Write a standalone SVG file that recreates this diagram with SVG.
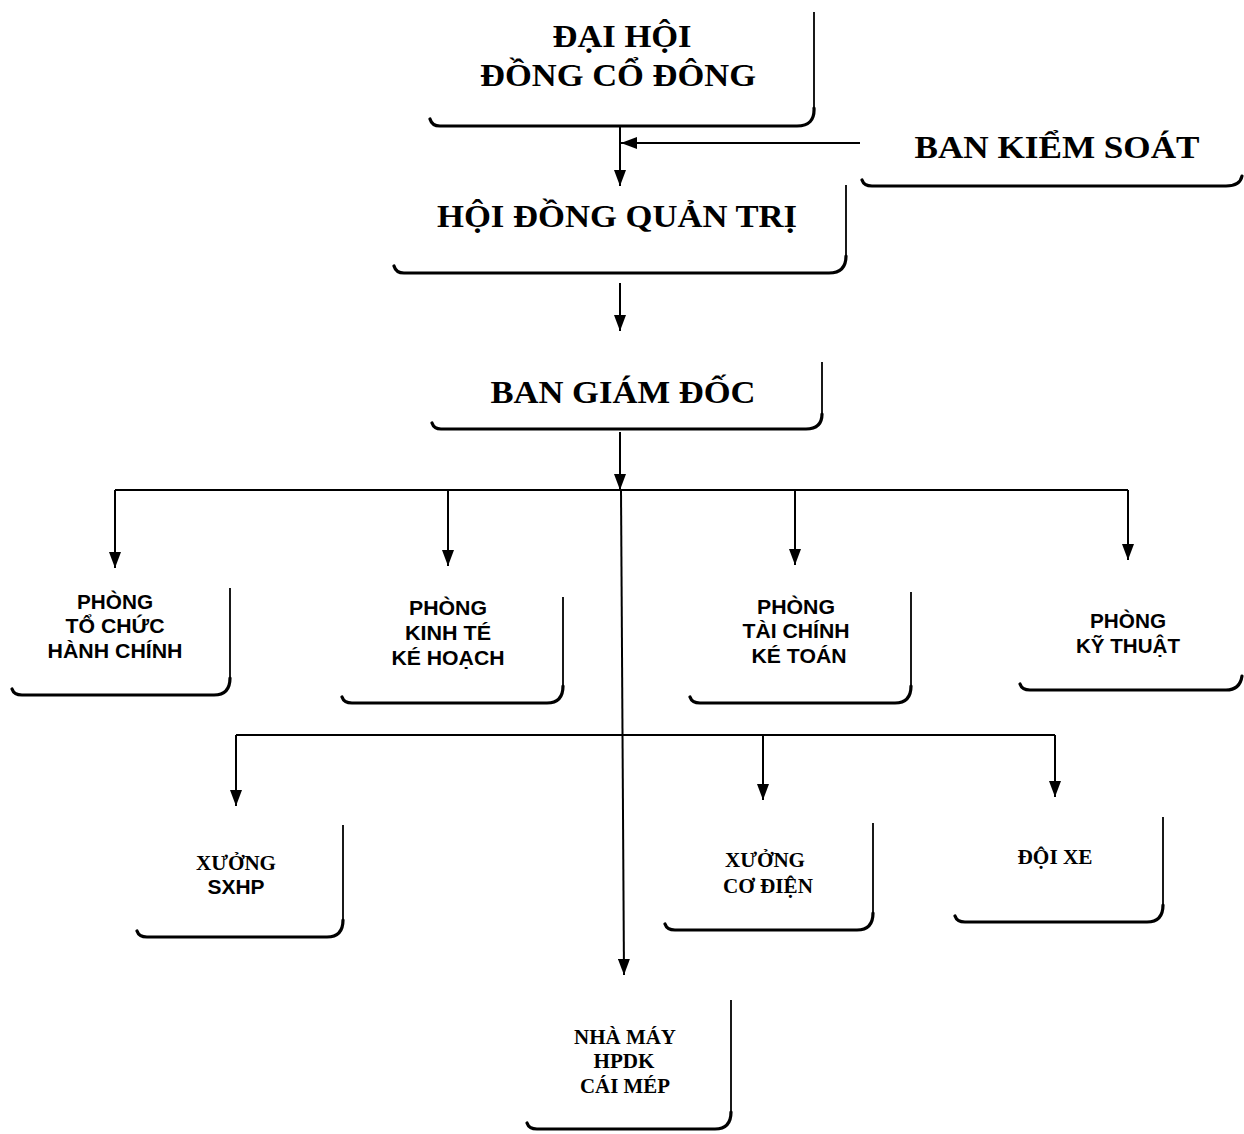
<svg xmlns="http://www.w3.org/2000/svg" width="1244" height="1134" viewBox="0 0 1244 1134">
<defs>
<marker id="ah" viewBox="0 0 16 12" markerWidth="16" markerHeight="12" refX="16" refY="6" orient="auto" markerUnits="userSpaceOnUse">
<path d="M0,0 L16,6 L0,12 z" fill="#000"/>
</marker>
<style>
.edge{fill:none;stroke:#000;stroke-width:1.8}
.base{fill:none;stroke:#000;stroke-width:3.2;stroke-linecap:round}
.ln{fill:none;stroke:#000;stroke-width:2}
.ar{fill:none;stroke:#000;stroke-width:2;marker-end:url(#ah)}
.big{font-family:"Liberation Serif","Times New Roman",serif;font-weight:bold;font-size:32px;text-anchor:middle;fill:#000}
.ts{font-family:"Liberation Serif","Times New Roman",serif;font-weight:bold;font-size:21px;text-anchor:middle;fill:#000}
.as{font-family:"Liberation Sans",Arial,sans-serif;font-weight:bold;font-size:20px;text-anchor:middle;fill:#000}
</style>
</defs>
<rect width="1244" height="1134" fill="#fff"/>

<g id="connectors">
<path class="ar" d="M620,127 V186"/>
<path class="ar" d="M860,143 H621"/>
<path class="ar" d="M620,283 V331"/>
<path class="ar" d="M620,432 V490"/>
<path class="ln" d="M115,490 H1128"/>
<path class="ar" d="M115,490 V568"/>
<path class="ar" d="M448,490 V566"/>
<path class="ar" d="M795,490 V565"/>
<path class="ar" d="M1128,490 V560"/>
<path class="ar" d="M621,490 L624,975"/>
<path class="ln" d="M236,735 H1055"/>
<path class="ar" d="M236,735 V806"/>
<path class="ar" d="M763,735 V800"/>
<path class="ar" d="M1055,735 V797"/>
</g>

<g id="dai-hoi">
<path class="edge" d="M814,12 V110"/>
<path class="base" d="M814,108 Q815,126 797,126 H440 Q432,126 430,119"/>
<text class="big" x="622" y="47" textLength="139" lengthAdjust="spacingAndGlyphs">ĐẠI HỘI</text>
<text class="big" x="618" y="86" textLength="276" lengthAdjust="spacingAndGlyphs">ĐỒNG CỔ ĐÔNG</text>
</g>

<g id="ban-kiem-soat">
<path class="base" d="M1242,176 Q1240,186 1226,186 H872 Q864,186 862,180"/>
<text class="big" x="1057" y="158" textLength="285" lengthAdjust="spacingAndGlyphs">BAN KIỂM  SOÁT</text>
</g>

<g id="hoi-dong-quan-tri">
<path class="edge" d="M846,185 V258"/>
<path class="base" d="M846,256 Q846,273 829,273 H404 Q396,273 394,266"/>
<text class="big" x="617" y="227" textLength="360" lengthAdjust="spacingAndGlyphs">HỘI ĐỒNG QUẢN TRỊ</text>
</g>

<g id="ban-giam-doc">
<path class="edge" d="M822,362 V416"/>
<path class="base" d="M822,414 Q822,429 806,429 H441 Q434,429 432,423"/>
<text class="big" x="623" y="403" textLength="265" lengthAdjust="spacingAndGlyphs">BAN GIÁM ĐỐC</text>
</g>

<g id="phong-to-chuc">
<path class="edge" d="M230,588 V680"/>
<path class="base" d="M230,678 Q230,695 214,695 H22 Q14,695 12,689"/>
<text class="as" x="115" y="609" textLength="76" lengthAdjust="spacingAndGlyphs">PHÒNG</text>
<text class="as" x="115" y="633" textLength="99" lengthAdjust="spacingAndGlyphs">TỔ CHỨC</text>
<text class="as" x="115" y="658" textLength="135" lengthAdjust="spacingAndGlyphs">HÀNH CHÍNH</text>
</g>

<g id="phong-kinh-te">
<path class="edge" d="M563,597 V688"/>
<path class="base" d="M563,686 Q563,703 547,703 H352 Q344,703 342,697"/>
<text class="as" x="448" y="615" textLength="78" lengthAdjust="spacingAndGlyphs">PHÒNG</text>
<text class="as" x="448" y="640" textLength="86" lengthAdjust="spacingAndGlyphs">KINH TÉ</text>
<text class="as" x="448" y="665" textLength="113" lengthAdjust="spacingAndGlyphs">KÉ HOẠCH</text>
</g>

<g id="phong-tai-chinh">
<path class="edge" d="M911,592 V688"/>
<path class="base" d="M911,686 Q911,703 895,703 H700 Q692,703 690,697"/>
<text class="as" x="796" y="614" textLength="78" lengthAdjust="spacingAndGlyphs">PHÒNG</text>
<text class="as" x="796" y="638" textLength="107" lengthAdjust="spacingAndGlyphs">TÀI CHÍNH</text>
<text class="as" x="799" y="663" textLength="95" lengthAdjust="spacingAndGlyphs">KÉ TOÁN</text>
</g>

<g id="phong-ky-thuat">
<path class="base" d="M1242,676 Q1240,690 1226,690 H1030 Q1022,690 1020,684"/>
<text class="as" x="1128" y="628" textLength="76" lengthAdjust="spacingAndGlyphs">PHÒNG</text>
<text class="as" x="1128" y="653" textLength="104" lengthAdjust="spacingAndGlyphs">KỸ THUẬT</text>
</g>

<g id="xuong-sxhp">
<path class="edge" d="M343,825 V922"/>
<path class="base" d="M343,920 Q343,937 327,937 H147 Q139,937 137,931"/>
<text class="ts" x="236" y="870" textLength="80" lengthAdjust="spacingAndGlyphs">XƯỞNG</text>
<text class="as" x="236" y="894" textLength="57" lengthAdjust="spacingAndGlyphs">SXHP</text>
</g>

<g id="xuong-co-dien">
<path class="edge" d="M873,823 V915"/>
<path class="base" d="M873,913 Q873,930 857,930 H675 Q667,930 665,924"/>
<text class="ts" x="765" y="867" textLength="80" lengthAdjust="spacingAndGlyphs">XƯỞNG</text>
<text class="ts" x="768" y="893" textLength="90" lengthAdjust="spacingAndGlyphs">CƠ ĐIỆN</text>
</g>

<g id="doi-xe">
<path class="edge" d="M1163,817 V907"/>
<path class="base" d="M1163,905 Q1163,922 1147,922 H965 Q957,922 955,916"/>
<text class="ts" x="1055" y="864" textLength="75" lengthAdjust="spacingAndGlyphs">ĐỘI XE</text>
</g>

<g id="nha-may">
<path class="edge" d="M731,1000 V1114"/>
<path class="base" d="M731,1112 Q731,1129 715,1129 H537 Q529,1129 527,1123"/>
<text class="ts" x="625" y="1044" textLength="102" lengthAdjust="spacingAndGlyphs">NHÀ MÁY</text>
<text class="ts" x="624" y="1068" textLength="61" lengthAdjust="spacingAndGlyphs">HPDK</text>
<text class="ts" x="625" y="1093" textLength="90" lengthAdjust="spacingAndGlyphs">CÁI MÉP</text>
</g>
</svg>
